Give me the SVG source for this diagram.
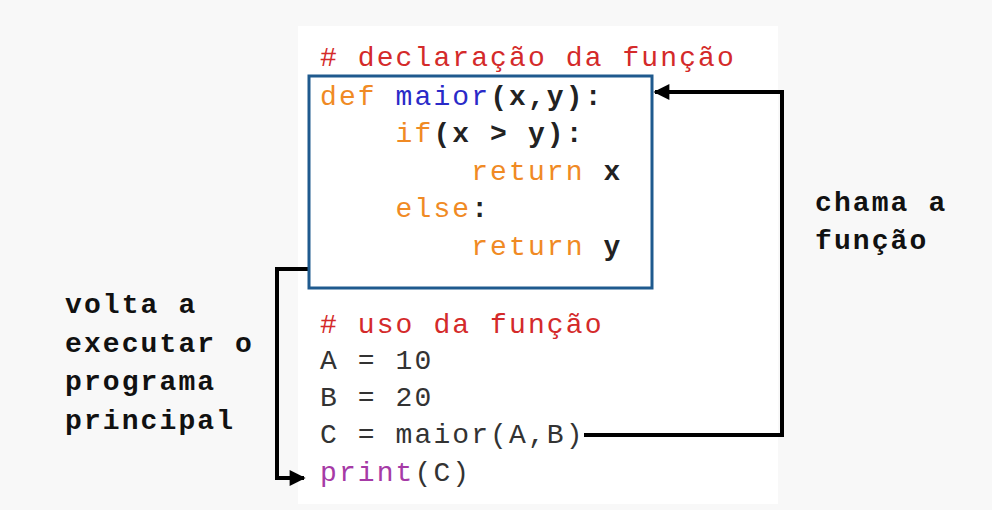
<svg xmlns="http://www.w3.org/2000/svg" width="992" height="510" viewBox="0 0 992 510">
<defs>
<style>
.code{font-family:"Liberation Mono","DejaVu Sans Mono",monospace;font-size:28px;letter-spacing:2.1px}
.lbl{font-family:"Liberation Mono","DejaVu Sans Mono",monospace;font-size:28px;letter-spacing:2.1px;font-weight:bold;fill:#111}
.cm{fill:#d42a2a}
.kw{fill:#f08a24}
.fn{fill:#2a2ac8}
.pn{fill:#222;font-weight:bold}
.tx{fill:#333}
.pr{fill:#a63aa6}
.conn{fill:none;stroke:#000;stroke-width:4}
</style>
<marker id="ah" viewBox="0 0 10 10" refX="9" refY="5" markerWidth="4.5" markerHeight="4" orient="auto" markerUnits="strokeWidth">
<path d="M0,0 L10,5 L0,10 z" fill="#000"/>
</marker>
</defs>
<rect x="0" y="0" width="992" height="510" fill="#f8f8f8"/>
<rect x="298" y="26" width="480" height="478" fill="#ffffff"/>

<g id="connectors">
<path class="conn" d="M584,435 H782 V92 H655" marker-end="url(#ah)"/>
<path class="conn" d="M308,269 H277 V478 H304" marker-end="url(#ah)"/>
</g>

<g id="comment-decl">
<text class="code cm" x="320" y="66"># declaração da função</text>
</g>

<g id="function-box">
<rect x="309" y="76" width="343" height="212" fill="none" stroke="#1f5a8e" stroke-width="3"/>
<text class="code" x="320" y="105"><tspan class="kw">def</tspan><tspan class="fn"> maior</tspan><tspan class="pn">(x,y):</tspan></text>
<text class="code" x="395.6" y="142"><tspan class="kw">if</tspan><tspan class="pn">(x &gt; y):</tspan></text>
<text class="code" x="471.2" y="180"><tspan class="kw">return</tspan><tspan class="pn"> x</tspan></text>
<text class="code" x="395.6" y="217"><tspan class="kw">else</tspan><tspan class="pn">:</tspan></text>
<text class="code" x="471.2" y="255"><tspan class="kw">return</tspan><tspan class="pn"> y</tspan></text>
</g>

<g id="main-program">
<text class="code cm" x="320" y="333"># uso da função</text>
<text class="code tx" x="320" y="369">A = 10</text>
<text class="code tx" x="320" y="406">B = 20</text>
<text class="code tx" x="320" y="443">C = maior(A,B)</text>
<text class="code" x="320" y="481"><tspan class="pr">print</tspan><tspan class="tx">(C)</tspan></text>
</g>

<g id="label-chama">
<text class="lbl" x="815" y="211">chama a</text>
<text class="lbl" x="815" y="249">função</text>
</g>

<g id="label-volta">
<text class="lbl" x="65" y="313">volta a</text>
<text class="lbl" x="65" y="352">executar o</text>
<text class="lbl" x="65" y="390">programa</text>
<text class="lbl" x="65" y="429">principal</text>
</g>
</svg>
